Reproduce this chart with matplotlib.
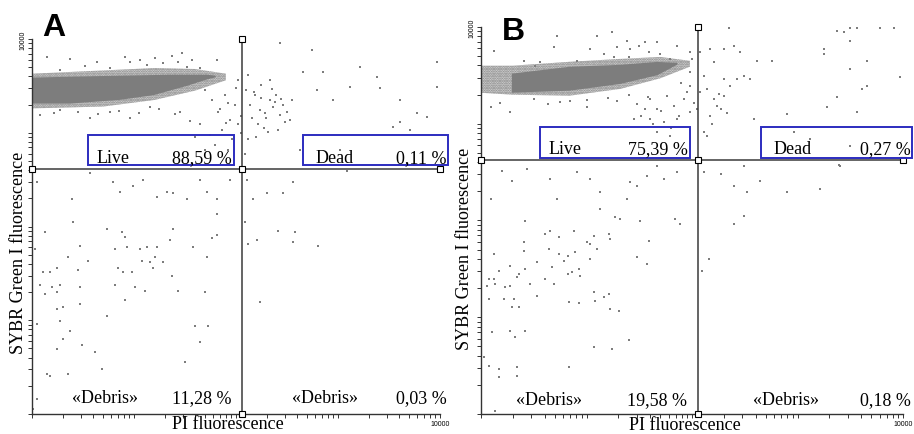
"""
Flow cytometry dot plots: SYBR Green I vs PI fluorescence, two samples (A, B)
with quadrant gates and percentages
"""

import matplotlib
matplotlib.use('Agg')
import matplotlib.pyplot as plt
from matplotlib.patches import Rectangle, Polygon
import numpy as np

matplotlib.rcParams['font.family'] = ['Liberation Serif', 'DejaVu Serif']
matplotlib.rcParams['hatch.linewidth'] = 1.2

# ---- data (log10 of channel value) ----

# Panel A - dense main population outline (core and speckled fringe)
a_core_pi = [0.0, 0.86, 1.35, 1.72, 1.80, 1.72, 1.52, 1.19, 0.86, 0.37, 0.0]
a_core_sybr = [3.58, 3.60, 3.61, 3.61, 3.60, 3.58, 3.51, 3.41, 3.36, 3.32, 3.32]
a_fringe_pi = [0.0, 0.6, 1.2, 1.6, 1.90, 1.90, 1.6, 1.2, 0.7, 0.0]
a_fringe_sybr = [3.63, 3.66, 3.69, 3.68, 3.63, 3.56, 3.45, 3.35, 3.28, 3.26]

# Panel A - sparse events
a_pi = [0.15, 0.37, 0.64, 0.91, 0.96, 1.06, 1.13, 1.21, 1.28, 1.37, 1.43, 1.47, 1.52, 1.57,
        1.65, 1.81, 0.76, 0.52, 0.27, 0.08, 0.27, 0.57, 0.76, 1.16, 1.45, 0.96,
        1.70, 1.76, 1.82, 1.89, 1.94, 1.99, 1.65, 1.75, 1.86, 1.96, 2.02, 1.79, 1.92, 1.70,
        1.60, 2.00, 2.10, 2.14, 2.19, 2.24, 2.25, 2.29, 2.33, 2.36, 2.39, 2.43, 2.46, 2.50,
        2.55, 2.22, 2.31, 2.12, 2.16, 2.41, 2.53, 2.09, 2.25, 2.12, 2.33,
        2.43, 2.66, 2.75, 2.85, 3.22, 3.38, 3.41, 2.79, 3.12, 2.95, 3.61, 3.77, 3.87, 3.97,
        3.97, 3.54, 3.61, 3.71, 3.02, 2.63,
        0.05, 0.39, 0.57, 0.79, 0.86, 0.99, 1.09, 1.23, 1.32, 1.38, 1.52, 1.65, 1.72, 1.81,
        1.94, 0.13, 0.03, 0.11, 0.18, 0.25, 0.08, 0.20, 0.27, 0.13, 0.25, 0.25, 0.30, 0.27,
        0.05, 0.47, 0.47, 0.45, 0.35, 0.55, 0.47, 0.40, 0.74, 0.88, 0.91, 0.93, 0.81, 1.06,
        1.13, 1.23, 1.08, 1.16, 1.21, 1.28, 1.19, 0.84, 0.89, 0.98, 1.01, 0.81, 1.11, 0.91,
        0.74, 1.37, 1.43, 1.35, 1.38, 1.58, 1.72, 1.76, 1.81, 1.70, 1.60, 1.73, 1.65, 1.50,
        0.62, 0.49, 0.25, 0.37, 0.30, 0.15, 0.18, 0.35, 0.69, 0.01, 0.05, 1.81,
        2.12, 2.21, 2.41, 2.58, 2.56, 2.80, 2.24, 2.11, 2.17, 2.30, 2.46, 2.56, 3.09, 2.09,
        1.84, 1.90, 2.05, 2.18, 2.27, 2.38, 2.48, 2.20, 2.35, 2.05, 1.55, 1.40, 1.25, 1.05,
        0.85, 0.65, 0.45, 0.22, 1.92, 2.02, 2.28, 2.44]
a_sybr = [3.81, 3.79, 3.76, 3.81, 3.76, 3.78, 3.72, 3.80, 3.74, 3.82, 3.76, 3.85, 3.70, 3.78,
          3.69, 3.78, 3.69, 3.71, 3.67, 3.19, 3.24, 3.16, 3.22, 3.27, 3.22, 3.16,
          3.46, 3.35, 3.22, 3.40, 3.14, 3.30, 3.09, 2.98, 3.03, 2.93, 3.09, 2.87, 2.82, 2.82,
          2.95, 3.48, 3.46, 3.30, 3.40, 3.24, 3.37, 3.16, 3.35, 3.27, 3.40, 3.19, 3.30, 3.22,
          3.35, 3.09, 3.01, 2.93, 3.16, 3.03, 3.14, 2.77, 3.51, 3.62, 3.56,
          3.96, 3.65, 3.88, 3.65, 3.70, 3.60, 3.48, 3.46, 3.49, 3.35, 3.35, 3.21, 3.17, 3.76,
          3.49, 3.06, 3.11, 3.03, 2.82, 2.82,
          2.48, 2.29, 2.57, 2.48, 2.37, 2.43, 2.50, 2.32, 2.37, 2.36, 2.29, 2.50, 2.37, 2.29,
          2.50, 1.94, 1.76, 1.51, 1.51, 1.56, 1.38, 1.36, 1.38, 1.28, 1.30, 1.12, 1.14, 0.99,
          0.96, 1.36, 1.17, 1.54, 1.67, 1.63, 1.79, 2.05, 1.97, 1.94, 1.89, 1.78, 1.76, 1.76,
          1.78, 1.78, 1.63, 1.62, 1.67, 1.62, 1.56, 1.56, 1.52, 1.51, 1.36, 1.38, 1.31, 1.22,
          1.04, 1.47, 1.31, 1.86, 1.97, 1.78, 1.67, 1.88, 1.91, 1.30, 0.94, 0.94, 0.77, 0.55,
          0.66, 0.74, 0.69, 0.88, 0.80, 0.43, 0.40, 0.43, 0.48, 0.05, 0.16, 2.13,
          1.81, 1.86, 1.95, 1.94, 1.84, 1.79, 1.19, 2.50, 2.29, 2.36, 2.36, 2.48, 2.59, 2.05,
          3.25, 3.10, 3.18, 3.44, 3.05, 3.33, 3.12, 2.96, 3.47, 3.00, 3.13, 3.20, 3.25, 3.21,
          3.23, 3.20, 3.22, 3.21, 3.32, 3.56, 3.21, 3.36]

# Panel B - dense main population outline
b_core_pi = [0.30, 0.84, 1.32, 1.67, 1.86, 1.67, 1.32, 0.84, 0.30]
b_core_sybr = [3.51, 3.58, 3.60, 3.63, 3.62, 3.51, 3.42, 3.35, 3.33]
b_fringe_pi = [0.0, 0.3, 0.84, 1.32, 1.70, 1.98, 1.98, 1.70, 1.32, 0.84, 0.3, 0.0]
b_fringe_sybr = [3.60, 3.60, 3.64, 3.67, 3.69, 3.65, 3.59, 3.47, 3.36, 3.29, 3.30, 3.32]

# Panel B - sparse events
b_pi = [0.12, 0.29, 0.69, 0.72, 1.10, 1.24, 1.03, 1.17, 1.29, 1.38, 1.41, 1.50, 1.55, 1.59,
        1.67, 1.70, 1.79, 1.86, 1.98, 2.00, 1.40, 1.26, 0.91, 0.56, 0.41, 0.51,
        0.63, 0.84, 1.00, 0.27, 0.09, 1.29, 1.48,
        1.60, 1.67, 1.76, 1.83, 1.92, 1.98, 1.95, 1.86, 1.73, 1.60, 1.55, 1.45, 1.67, 1.79,
        1.98, 1.98, 2.11, 2.14, 2.21, 2.24, 2.17, 2.11, 2.30, 2.36, 2.43, 2.49, 2.30, 2.27,
        2.14, 2.08, 2.17, 2.30, 2.40, 2.45, 2.55, 2.21, 2.62, 2.76, 2.05,
        2.35, 3.37, 3.44, 3.50, 3.56, 3.50, 3.78, 3.91, 3.25, 3.25, 3.66, 3.50, 3.66, 3.61,
        3.97, 3.37, 3.28, 3.56, 2.90, 2.59, 2.97, 3.12, 3.50, 3.39,
        0.20, 0.29, 0.44, 0.65, 0.72, 0.91, 1.03, 1.13, 1.41, 1.48, 1.57, 1.67, 1.73, 1.86,
        0.09, 1.38, 1.13, 0.42, 0.61, 0.65, 0.74, 0.88, 1.00, 1.03, 1.07, 1.21, 1.22, 1.10,
        1.03, 0.89, 0.82, 0.79, 0.74, 0.64, 0.67, 0.86, 0.82, 0.94, 0.93, 0.41, 0.41, 0.53,
        0.42, 0.36, 0.34, 0.27, 0.17, 0.12, 0.08, 0.12, 0.13, 0.06, 0.23, 0.27, 0.46, 0.61,
        0.69, 0.08, 0.22, 0.31, 0.36, 0.29, 0.53, 0.83, 0.93, 1.07, 1.08, 1.17, 1.21, 1.22,
        1.31, 1.48, 1.57, 1.59, 1.51, 1.32, 1.27, 1.84, 1.89, 0.42, 0.27, 0.10, 0.32, 0.03,
        0.08, 0.17, 0.34, 0.34, 0.17, 0.83, 1.07, 1.24, 1.40, 0.13,
        2.09, 2.16, 2.40, 2.49, 2.11, 2.27, 2.40, 2.49, 2.52, 2.90, 3.21, 3.40, 2.64,
        1.52, 1.63, 1.71, 1.88, 2.02, 2.19, 2.33, 1.80, 1.58, 1.40, 1.20, 1.00, 0.75, 0.50,
        0.18, 1.90, 2.08, 2.26]
b_sybr = [3.75, 3.90, 3.79, 3.91, 3.91, 3.95, 3.77, 3.72, 3.79, 3.86, 3.77, 3.80, 3.84, 3.74,
          3.84, 3.72, 3.67, 3.80, 3.74, 3.67, 3.69, 3.69, 3.65, 3.64, 3.65, 3.60,
          3.20, 3.24, 3.17, 3.12, 3.17, 3.24, 3.20,
          3.26, 3.15, 3.29, 3.18, 3.26, 3.12, 3.33, 3.05, 3.02, 3.05, 3.15, 3.05, 2.91, 2.87,
          3.39, 3.53, 3.49, 3.36, 3.26, 3.18, 3.08, 2.91, 3.46, 3.39, 3.46, 3.49, 3.29, 3.15,
          2.87, 3.74, 3.77, 3.77, 3.80, 3.74, 3.46, 3.64, 3.65, 3.65, 3.15,
          3.99, 3.96, 3.95, 3.99, 3.99, 3.86, 3.99, 3.99, 3.77, 3.72, 3.65, 3.57, 3.39, 3.36,
          3.48, 3.28, 3.17, 3.12, 3.10, 3.05, 2.91, 2.84, 2.77, 2.57,
          2.51, 2.41, 2.53, 2.43, 2.22, 2.50, 2.43, 2.29, 2.40, 2.36, 2.46, 2.56, 2.43, 2.50,
          2.22, 2.22, 2.12, 1.99, 1.86, 1.89, 1.83, 1.89, 1.78, 1.76, 1.84, 1.86, 1.81, 1.71,
          1.60, 1.67, 1.63, 1.58, 1.65, 1.71, 1.52, 1.47, 1.45, 1.43, 1.50, 1.78, 1.68, 1.57,
          1.50, 1.45, 1.42, 1.53, 1.48, 1.65, 1.40, 1.40, 1.34, 1.32, 1.31, 1.32, 1.34, 1.40,
          1.34, 1.19, 1.19, 1.19, 1.11, 1.11, 1.22, 1.16, 1.15, 1.26, 1.17, 1.21, 1.24, 1.09,
          1.06, 1.62, 1.55, 1.79, 1.99, 2.02, 2.04, 2.02, 1.96, 0.86, 0.86, 0.85, 0.80, 0.59,
          0.50, 0.47, 0.49, 0.39, 0.38, 0.49, 0.69, 0.67, 0.76, 0.03,
          1.48, 1.60, 1.96, 2.05, 2.50, 2.48, 2.36, 2.56, 2.29, 2.29, 2.33, 2.56, 2.41,
          3.08, 3.00, 3.13, 3.08, 3.21, 3.00, 3.11, 2.96, 3.28, 3.30, 3.27, 3.25, 3.22, 3.26,
          3.21, 3.42, 3.33, 3.31]

# quadrant gates (channel values) and quadrant percentages
a_gate = (115, 415)
b_gate = (115, 420)
a_pct = {'live': '88,59 %', 'dead': '0,11 %', 'debris_l': '11,28 %', 'debris_r': '0,03 %'}
b_pct = {'live': '75,39 %', 'dead': '0,27 %', 'debris_l': '19,58 %', 'debris_r': '0,18 %'}

DOT = '#7d7d7d'
GATE = '#3a3a3a'
BOX = '#2c2cbf'


def draw_panel(ax, core, fringe, pts, gate, pct, lay):
    ax.set_xscale('log')
    ax.set_yscale('log')
    ax.set_xlim(1, 10000)
    ax.set_ylim(1, 10000)

    # main population: speckled fringe then dense core
    fx, fy = 10 ** np.array(fringe[0]), 10 ** np.array(fringe[1])
    ax.add_patch(Polygon(np.column_stack([fx, fy]), closed=True, facecolor='#dcdcdc',
                         edgecolor=DOT, lw=0, hatch='.......', zorder=1))
    cx, cy = 10 ** np.array(core[0]), 10 ** np.array(core[1])
    ax.add_patch(Polygon(np.column_stack([cx, cy]), closed=True,
                         facecolor=DOT, edgecolor=DOT, lw=1.2, zorder=2))

    # sparse events
    ax.scatter(10 ** np.array(pts[0]), 10 ** np.array(pts[1]), s=1.4, marker='s',
               color=DOT, linewidths=0, zorder=2)

    # quadrant gates with square handles
    gx, gy = gate
    ax.plot([1, 10000], [gy, gy], color=GATE, lw=1.1, zorder=3, clip_on=False)
    ax.plot([gx, gx], [1, 10000], color=GATE, lw=1.1, zorder=3, clip_on=False)
    ax.plot([1, gx, 10000, gx, gx], [gy, gy, gy, 10000, 1], ls='none', marker='s',
            ms=5, mfc='white', mec='black', mew=0.8, zorder=4, clip_on=False)

    # gate boxes
    for x0, w in [(lay['live_x0'], lay['live_w']), (lay['dead_x0'], lay['dead_w'])]:
        ax.add_patch(Rectangle((x0, lay['box_y0']), w, lay['box_h'], transform=ax.transAxes,
                               fill=False, edgecolor=BOX, lw=1.4, zorder=5, clip_on=False))

    fs = 13
    ty = lay['text_y']
    ax.text(lay['live_x0'] + 0.02, ty, 'Live', transform=ax.transAxes, fontsize=fs,
            va='baseline', ha='left', zorder=6)
    ax.text(lay['live_x0'] + lay['live_w'] - 0.006, ty, pct['live'], transform=ax.transAxes,
            fontsize=fs, va='baseline', ha='right', zorder=6)
    ax.text(lay['dead_x0'] + 0.03, ty, 'Dead', transform=ax.transAxes, fontsize=fs,
            va='baseline', ha='left', zorder=6)
    ax.text(lay['dead_x0'] + lay['dead_w'] - 0.003, ty, pct['dead'], transform=ax.transAxes,
            fontsize=fs, va='baseline', ha='right', zorder=6, clip_on=False)

    dy = lay['debris_y']
    ax.text(lay['debris_l_x'], dy, '«Debris»', transform=ax.transAxes, fontsize=fs,
            va='baseline', ha='left')
    ax.text(lay['live_x0'] + lay['live_w'] - 0.006, dy, pct['debris_l'], transform=ax.transAxes,
            fontsize=fs, va='baseline', ha='right')
    ax.text(lay['debris_r_x'], dy, '«Debris»', transform=ax.transAxes, fontsize=fs,
            va='baseline', ha='left')
    ax.text(lay['dead_x0'] + lay['dead_w'] - 0.003, dy, pct['debris_r'], transform=ax.transAxes,
            fontsize=fs, va='baseline', ha='right')

    # axes styling: only left and bottom axis lines, outward ticks
    for side in ['top', 'right']:
        ax.spines[side].set_visible(False)
    for side in ['left', 'bottom']:
        ax.spines[side].set_color('#333333')
        ax.spines[side].set_linewidth(1.0)
    ax.tick_params(which='both', direction='out', length=2.6, width=0.7, color='#333333',
                   labelsize=5, pad=1.5)
    ax.set_xticks([1, 10, 100, 1000, 10000])
    ax.set_xticklabels(['', '', '', '', '10000'], fontfamily='Liberation Sans')
    ax.set_yticks([1, 10, 100, 1000, 10000])
    ax.set_yticklabels(['', '', '', '', '10000'], rotation=90, va='center',
                       fontfamily='Liberation Sans')

    ax.set_xlabel('PI fluorescence', fontsize=13)
    ax.set_ylabel('SYBR Green I fluorescence', fontsize=13)
    ax.xaxis.set_label_coords(lay['xlab_x'], -0.004)
    ax.yaxis.set_label_coords(lay['ylab_x'], lay['ylab_y'])


fig = plt.figure(figsize=(9.14, 4.35), dpi=100)
ax_a = fig.add_axes([0.0350, 0.046, 0.4464, 0.862])
ax_b = fig.add_axes([0.5263, 0.046, 0.4617, 0.8897])

lay_a = dict(live_x0=0.137, live_w=0.358, dead_x0=0.664, dead_w=0.356, box_y0=0.664,
             box_h=0.080, text_y=0.672, debris_y=0.032, debris_l_x=0.098, debris_r_x=0.637,
             xlab_x=0.48, ylab_x=-0.012, ylab_y=0.432)
lay_b = dict(live_x0=0.140, live_w=0.355, dead_x0=0.664, dead_w=0.357, box_y0=0.661,
             box_h=0.081, text_y=0.674, debris_y=0.026, debris_l_x=0.083, debris_r_x=0.645,
             xlab_x=0.483, ylab_x=-0.018, ylab_y=0.429)

draw_panel(ax_a, (a_core_pi, a_core_sybr), (a_fringe_pi, a_fringe_sybr), (a_pi, a_sybr),
           a_gate, a_pct, lay_a)
draw_panel(ax_b, (b_core_pi, b_core_sybr), (b_fringe_pi, b_fringe_sybr), (b_pi, b_sybr),
           b_gate, b_pct, lay_b)

fig.text(42 / 914, 1 - 36 / 435, 'A', fontsize=23, fontweight='bold',
         fontfamily='Liberation Sans', va='baseline', ha='left')
fig.text(502 / 914, 1 - 40 / 435, 'B', fontsize=23, fontweight='bold',
         fontfamily='Liberation Sans', va='baseline', ha='left')

fig.savefig('out.png', dpi=100)
